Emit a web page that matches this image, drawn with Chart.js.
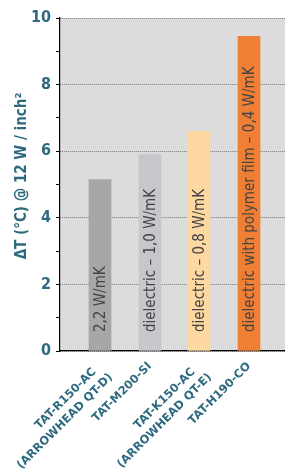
<!DOCTYPE html>
<html lang="en">
<head>
    <meta charset="UTF-8">
    <title>ΔT per product</title>
    <script src="https://cdn.jsdelivr.net/npm/chart.js"></script>
    <style>
        html, body {
            margin: 0;
            padding: 0;
            background: #fff;
        }
        #wrap {
            width: 285px;
            height: 472px;
        }
    </style>
</head>
<body>
    <div id="wrap">
        <canvas id="chart" width="285" height="472"></canvas>
    </div>

    <script>
        // product names (x axis, two lines where needed)
        const products = [
            ['TAT-R150-AC  ', '(ARROWHEAD QT-D)'],
            'TAT-M200-SI',
            ['TAT-K150-AC  ', '(ARROWHEAD QT-E)'],
            'TAT-H190-CO'
        ];
        // where each bar sits on the x scale (0 .. 4.5)
        const positions = [0.8, 1.8, 2.78, 3.78];
        // temperature rise in °C
        const deltaT = [5.15, 5.9, 6.6, 9.45];
        // text written up each bar
        const barTexts = [
            '2,2 W/mK',
            'dielectric – 1,0 W/mK',
            'dielectric – 0,8 W/mK',
            'dielectric with polymer film – 0,4 W/mK'
        ];
        const barColors = ['#a7a7a5', '#c6c7cb', '#fdd9a1', '#ef7f35'];
        const yTicks = [0, 2, 4, 6, 8, 10];
        const yTitle = 'ΔT (°C) @ 12 W / inch²';

        const teal = '#2d6a7f';
        const font = '"DejaVu Sans Condensed", "DejaVu Sans", sans-serif';

        // grey plot background
        const bgPlugin = {
            id: 'bg',
            beforeDraw(chart) {
                const a = chart.chartArea;
                const c = chart.ctx;
                c.save();
                c.fillStyle = '#dcdcdc';
                c.fillRect(a.left, a.top, a.right - a.left, a.bottom - a.top);
                c.restore();
            }
        };

        // vertical text inside the bars + the y axis title
        const textPlugin = {
            id: 'texts',
            afterDatasetsDraw(chart) {
                const c = chart.ctx;
                const meta = chart.getDatasetMeta(0);
                c.save();
                c.fillStyle = '#444';
                c.font = '15px ' + font;
                c.textAlign = 'left';
                c.textBaseline = 'middle';
                meta.data.forEach((bar, i) => {
                    c.save();
                    c.translate(bar.x + 1, chart.chartArea.bottom - 19);
                    c.rotate(-Math.PI / 2);
                    c.fillText(barTexts[i], 0, 0);
                    c.restore();
                });

                c.fillStyle = teal;
                c.font = 'bold 15px ' + font;
                c.textAlign = 'center';
                c.translate(22, 176);
                c.rotate(-Math.PI / 2);
                c.fillText(yTitle, 0, 0);
                c.restore();
            }
        };

        const ctx = document.getElementById('chart').getContext('2d');
        new Chart(ctx, {
            type: 'bar',
            data: {
                datasets: [{
                    data: positions.map((x, i) => ({ x: x, y: deltaT[i] })),
                    backgroundColor: barColors,
                    barThickness: 22,
                    borderWidth: 0
                }]
            },
            options: {
                responsive: false,
                animation: false,
                layout: { padding: { top: 18, right: 0, left: 0, bottom: 0 } },
                plugins: {
                    legend: { display: false },
                    tooltip: { enabled: false }
                },
                scales: {
                    x: {
                        type: 'linear',
                        offset: false,
                        min: 0,
                        max: 4.5,
                        afterBuildTicks(scale) {
                            scale.ticks = positions.map(v => ({ value: v }));
                        },
                        afterFit(scale) {
                            scale.height = 121;
                            scale.paddingLeft = 0;
                            scale.paddingRight = 0;
                        },
                        grid: { display: false, drawTicks: false },
                        border: { color: '#000', width: 1.2 },
                        ticks: {
                            autoSkip: false,
                            maxRotation: 45,
                            minRotation: 45,
                            padding: 8,
                            color: teal,
                            font: { family: '"DejaVu Sans", sans-serif', size: 11.5, weight: 'bold', lineHeight: 1.35 },
                            callback: (v, i) => products[i]
                        }
                    },
                    y: {
                        min: 0,
                        max: 10,
                        afterFit(scale) {
                            scale.width = 60;
                            scale.paddingTop = 0;
                            scale.paddingBottom = 0;
                        },
                        border: { color: '#000', width: 1.2, dash: [1, 1] },
                        grid: {
                            color: c => yTicks.includes(c.tick.value) ? '#777' : 'transparent',
                            tickColor: '#000',
                            tickLength: 4,
                            tickWidth: 1
                        },
                        ticks: {
                            stepSize: 1,
                            padding: 5,
                            color: teal,
                            font: { family: font, size: 16, weight: 'bold' },
                            callback: v => yTicks.includes(v) ? v : ''
                        }
                    }
                }
            },
            plugins: [bgPlugin, textPlugin]
        });
    </script>
</body>
</html>
